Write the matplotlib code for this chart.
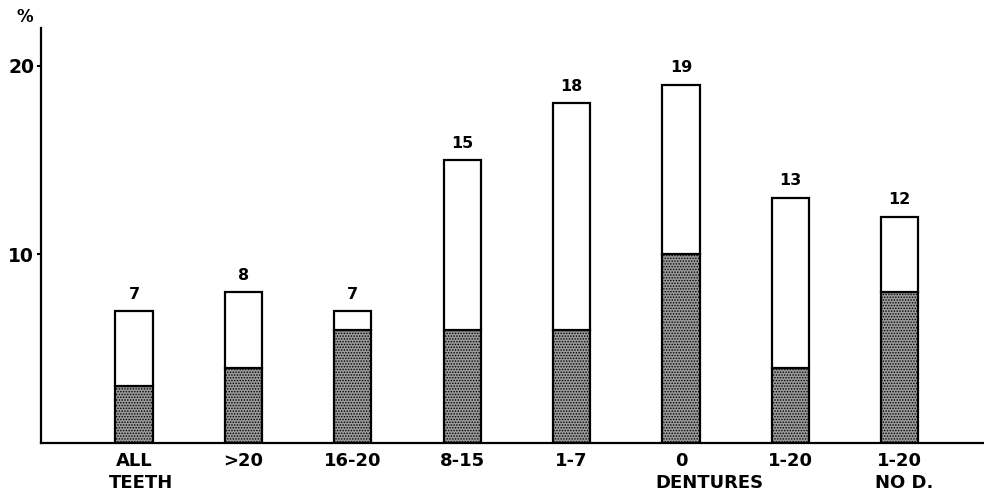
import matplotlib
matplotlib.use("Agg")
import matplotlib.pyplot as plt
import numpy as np

# values (percent)
groups_top = ["ALL", ">20", "16-20", "8-15", "1-7", "0", "1-20", "1-20"]
groups_bottom = ["TEETH", "", "", "", "", "DENTURES", "", "NO D."]
totals = [7, 8, 7, 15, 18, 19, 13, 12]
shaded = [3, 4, 6, 6, 6, 10, 4, 8]
yticks = [10, 20]

plt.rcParams["hatch.linewidth"] = 0.7
plt.rcParams["font.family"] = "DejaVu Sans"

fig = plt.figure(figsize=(9.84, 5.03), dpi=100)
ax = fig.add_axes([41 / 984, 60 / 503, 943 / 984, 415 / 503])

x = np.arange(len(totals))
w = 0.34
rest = [t - s for t, s in zip(totals, shaded)]

ax.bar(x, shaded, width=w, color="#9a9a9a", edgecolor="black",
       linewidth=1.6, hatch="......", zorder=2)
ax.bar(x, rest, bottom=shaded, width=w, color="white", edgecolor="black",
       linewidth=1.6, zorder=2)

for xi, t in zip(x, totals):
    ax.text(xi, t + 0.5, str(t), ha="center", va="bottom",
            fontsize=11.5, fontweight="bold")

for xi, top, bot in zip(x, groups_top, groups_bottom):
    ax.text(xi, -0.95, top, ha="center", va="center",
            fontsize=13, fontweight="bold")
    if bot:
        ax.text(xi - w / 2 - 0.06, -2.1, bot, ha="left", va="center",
                fontsize=13, fontweight="bold")

ax.set_xlim(-0.85, 7.77)
ax.set_ylim(0, 22)
ax.set_xticks([])
ax.set_yticks(yticks)
ax.set_yticklabels([str(v) for v in yticks], fontsize=13.5, fontweight="bold")
ax.tick_params(axis="y", length=3, width=1.5, pad=2)
ax.spines[["top", "right"]].set_visible(False)
ax.spines["left"].set_linewidth(1.6)
ax.spines["bottom"].set_linewidth(1.6)
fig.text(25 / 984, 1 - 17 / 503, "%", ha="center", va="center",
         fontsize=12, fontweight="bold")

fig.savefig("out.png", dpi=100)
